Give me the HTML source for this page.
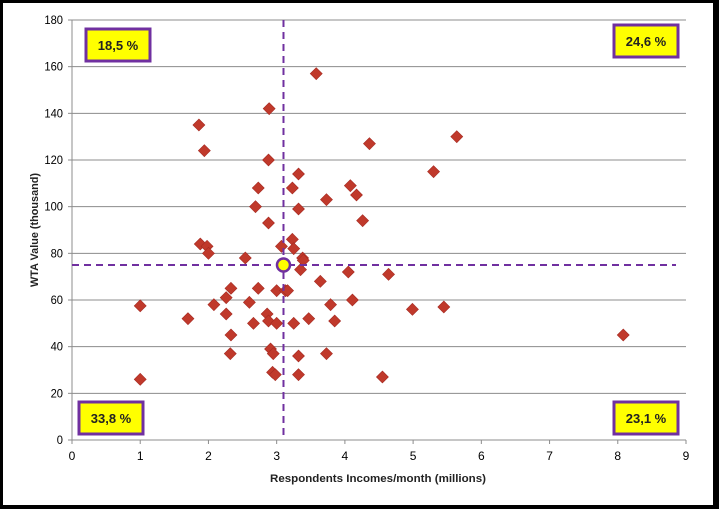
<!DOCTYPE html>
<html><head><meta charset="utf-8"><style>
html,body{margin:0;padding:0;background:#fff;}
svg{display:block;font-family:"Liberation Sans",Arial,sans-serif;}
</style></head><body>
<svg id="chart" width="719" height="509" viewBox="0 0 719 509">
<rect x="0" y="0" width="719" height="509" fill="#000"/>
<rect x="3" y="3" width="710" height="502" fill="#fff"/>
<g id="grid"></g><g id="axes"></g><g id="marks"></g><g id="labels"></g>
</svg>
<script>
const xTicks=[0,1,2,3,4,5,6,7,8,9];
const yTicks=[0,20,40,60,80,100,120,140,160,180];
const incomes=[1.0,1.0,1.70,1.86,1.94,1.88,1.98,2.0,2.08,2.26,2.26,2.33,2.33,2.32,2.54,2.60,2.66,2.73,2.69,2.73,2.86,2.88,2.88,2.88,2.89,2.91,2.95,2.94,2.98,3.0,3.0,3.07,3.13,3.16,3.23,3.23,3.25,3.25,3.32,3.32,3.35,3.38,3.39,3.32,3.32,3.47,3.58,3.64,3.73,3.73,3.79,3.85,4.05,4.08,4.11,4.17,4.26,4.36,4.55,4.64,4.99,5.30,5.45,5.64,8.08];
const wtaValues=[57.5,26,52,135,124,84,83,80,58,54,61,65,45,37,78,59,50,65,100,108,54,51,93,120,142,39,37,29,28,50,64,83,64,64,108,86,82,50,114,99,73,78,77,36,28,52,157,68,103,37,58,51,72,109,60,105,94,127,27,71,56,115,57,130,45];
const meanIncome=[3.1];
const meanWta=[75];
const quadrantLabels=["18,5 %","24,6 %","33,8 %","23,1 %"];

const NS="http://www.w3.org/2000/svg";
const X0=72,X1=686,Y0=440,Y1=20;
const sx=v=>X0+(v-0)/(9-0)*(X1-X0);
const sy=v=>Y0-(v-0)/(180-0)*(Y0-Y1);
function mk(tag,attrs,parent){const e=document.createElementNS(NS,tag);for(const k in attrs)e.setAttribute(k,attrs[k]);parent.appendChild(e);return e;}
const grid=document.getElementById('grid'),axes=document.getElementById('axes'),marks=document.getElementById('marks'),labels=document.getElementById('labels');

yTicks.forEach(t=>{
  if(t>0){const l=mk('line',{x1:X0,x2:X1,y1:sy(t),y2:sy(t),stroke:'#8c8c8c','stroke-width':1},grid);
  
  }
  mk('line',{x1:X0-4,x2:X0,y1:sy(t),y2:sy(t),stroke:'#8c8c8c'},axes);
  const tx=mk('text',{x:X0-9,y:sy(t)+4,'text-anchor':'end','font-size':12,fill:'#000',textLength:String(t).length*6.2,lengthAdjust:'spacingAndGlyphs'},axes);
  tx.textContent=t;
  
  
});
xTicks.forEach(t=>{
  mk('line',{x1:sx(t),x2:sx(t),y1:Y0,y2:Y0+4,stroke:'#8c8c8c'},axes);
  const tx=mk('text',{x:sx(t),y:Y0+20,'text-anchor':'middle','font-size':12,fill:'#000'},axes);
  tx.textContent=t;
  
  
});
const ya=mk('line',{x1:X0,x2:X0,y1:Y1,y2:Y0,stroke:'#8c8c8c'},axes);


const xa=mk('line',{x1:X0,x2:X1,y1:Y0,y2:Y0,stroke:'#8c8c8c'},axes);



const xt=mk('text',{x:378,y:482,'text-anchor':'middle','font-size':11,'font-weight':'bold',fill:'#222',textLength:216,lengthAdjust:'spacingAndGlyphs'},labels);
xt.textContent='Respondents Incomes/month (millions)';


const yt=mk('text',{x:0,y:0,'text-anchor':'middle','font-size':11,'font-weight':'bold',fill:'#222',transform:'translate(38,230) rotate(-90)',textLength:114,lengthAdjust:'spacingAndGlyphs'},labels);
yt.textContent='WTA Value (thousand)';



incomes.forEach((v,i)=>{
  const cx=sx(v),cy=sy(wtaValues[i]),r=6;
  const p=mk('polygon',{points:`${cx},${cy-r} ${cx+r},${cy} ${cx},${cy+r} ${cx-r},${cy}`,fill:'#c0392b',stroke:'#a52a22','stroke-width':0.6},marks);
  
  
});

const vl=mk('line',{x1:sx(meanIncome[0]),x2:sx(meanIncome[0]),y1:Y1,y2:Y0,stroke:'#7030a0','stroke-width':2,'stroke-dasharray':'7,5'},marks);


const hl=mk('line',{x1:X0,x2:X1-10,y1:sy(meanWta[0]),y2:sy(meanWta[0]),stroke:'#7030a0','stroke-width':2,'stroke-dasharray':'7,5'},marks);


const mp=mk('circle',{cx:sx(meanIncome[0]),cy:sy(meanWta[0]),r:6.5,fill:'#ffff00',stroke:'#7030a0','stroke-width':2.5},marks);



const boxes=[[86,29],[614,25],[79,402],[614,402]];
quadrantLabels.forEach((s,i)=>{
  const [bx,by]=boxes[i];
  const g=mk('g',{},labels);
  
  
  mk('rect',{x:bx,y:by,width:64,height:32,fill:'#ffff00',stroke:'#7030a0','stroke-width':3},g);
  const t=mk('text',{x:bx+32,y:by+21,'text-anchor':'middle','font-size':13,'font-weight':'bold',fill:'#222'},g);
  t.textContent=s;
});
</script>
</body></html>
